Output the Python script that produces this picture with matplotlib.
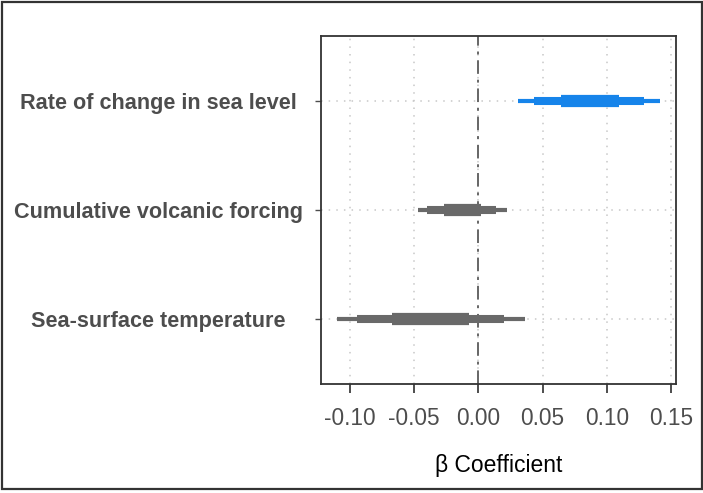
import matplotlib.pyplot as plt
from matplotlib.patches import Rectangle

# data
labels = ['Sea-surface temperature', 'Cumulative volcanic forcing',
          'Rate of change in sea level']
outer_lo = [-0.110, -0.047, 0.031]
outer_hi = [0.036, 0.022, 0.141]
mid_lo = [-0.094, -0.040, 0.043]
mid_hi = [0.020, 0.014, 0.129]
inner_lo = [-0.067, -0.027, 0.064]
inner_hi = [-0.007, 0.002, 0.109]
colors = ['#696969', '#696969', '#1684ea']
xticks = [-0.10, -0.05, 0.00, 0.05, 0.10, 0.15]

fig = plt.figure(figsize=(7.03, 4.93), dpi=100)
ax = fig.add_axes([321 / 703, 1 - 384 / 493, 355 / 703, 348 / 493])

txt = '#4d4d4d'
ys = [1, 2, 3]

ax.grid(True, color='#c8c8c8', linestyle=(0, (1, 4)), linewidth=1.1)
ax.set_axisbelow(True)
ax.axvline(0, color='#666666', linestyle=(0, (7, 3, 1.5, 3)), linewidth=1.4, zorder=2)

for i, y in enumerate(ys):
    ax.plot([outer_lo[i], outer_hi[i]], [y, y], color=colors[i], lw=3.0,
            solid_capstyle='butt', zorder=3)
    ax.plot([mid_lo[i], mid_hi[i]], [y, y], color=colors[i], lw=5.8,
            solid_capstyle='butt', zorder=3)
    ax.plot([inner_lo[i], inner_hi[i]], [y, y], color=colors[i], lw=8.8,
            solid_capstyle='butt', zorder=3)

ax.set_xlim(-0.1223, 0.1537)
ax.set_ylim(0.4, 3.6)
ax.set_xticks(xticks)
ax.set_xticklabels(['%.2f' % v for v in xticks])
ax.set_yticks(ys)
ax.set_yticklabels([])

# category labels are centred in the left margin
ytrans = ax.get_yaxis_transform()
for y, lab in zip(ys, labels):
    ax.text((158 - 321) / 355, y, lab, transform=ytrans, ha='center',
            va='center_baseline', fontsize=15.6, fontweight='bold', color=txt,
            fontfamily='Liberation Sans')

ax.tick_params(axis='x', labelsize=16.3, labelcolor=txt, color='#4d4d4d',
               length=6.5, width=1.4, pad=10)
ax.tick_params(axis='y', color='#4d4d4d', length=4, width=1.0)
for lab in ax.get_xticklabels():
    lab.set_fontfamily('Liberation Sans')

for s in ax.spines.values():
    s.set_color('#333333')
    s.set_linewidth(1.3)

ax.set_xlabel('β Coefficient', fontsize=16.5, color='black', labelpad=17,
              fontfamily=['Liberation Sans', 'DejaVu Sans'])

# outer frame
fig.patches.append(Rectangle((2 / 703, 4 / 493), 699.5 / 703, 487 / 493,
                             transform=fig.transFigure, fill=False,
                             edgecolor='#333333', linewidth=1.6))

fig.savefig('out.png', dpi=100)
